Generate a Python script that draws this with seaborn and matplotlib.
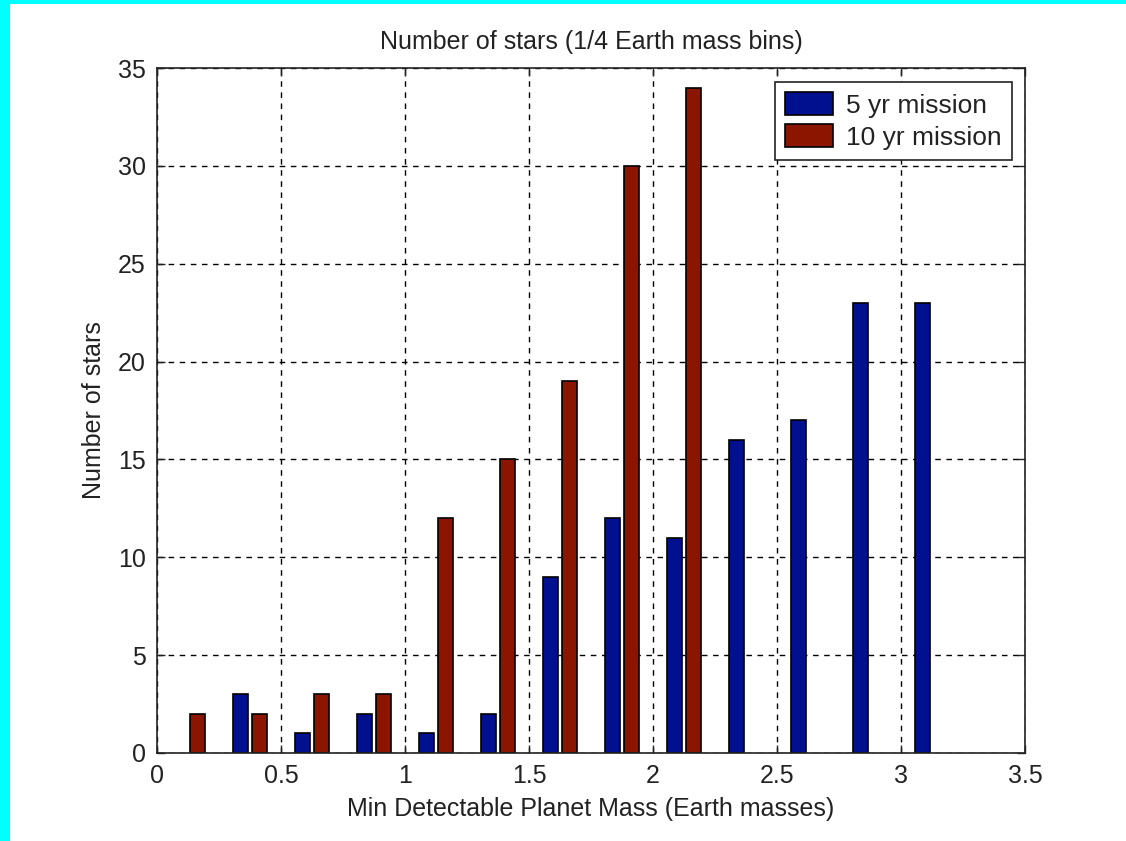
import matplotlib
matplotlib.use("Agg")
import matplotlib.pyplot as plt
from matplotlib.patches import Rectangle
import seaborn as sns
import pandas as pd

# Bin centres of the 1/4 Earth-mass bins
bin_centers = [0.125, 0.375, 0.625, 0.875, 1.125, 1.375, 1.625,
               1.875, 2.125, 2.375, 2.625, 2.875, 3.125]
stars_5yr = [0, 3, 1, 2, 1, 2, 9, 12, 11, 16, 17, 23, 23]
stars_10yr = [2, 2, 3, 3, 12, 15, 19, 30, 34, 0, 0, 0, 0]
series_names = ["5 yr mission", "10 yr mission"]
series_colors = ["#00108F", "#8C1500"]

x_ticks = [0, 0.5, 1, 1.5, 2, 2.5, 3, 3.5]
y_ticks = [0, 5, 10, 15, 20, 25, 30, 35]

rows = []
for x, a, b in zip(bin_centers, stars_5yr, stars_10yr):
    rows.append({"mass": x, "count": a, "mission": series_names[0]})
    rows.append({"mass": x, "count": b, "mission": series_names[1]})
df = pd.DataFrame(rows)
df = df[df["count"] > 0]

sns.set_style("white")
plt.rcParams["font.family"] = ["Liberation Sans", "DejaVu Sans"]
FS = 18
plt.rcParams["font.size"] = FS
ink = "#222222"

fig = plt.figure(figsize=(11.26, 8.41), dpi=100, facecolor="#00FFFF")
fig.add_artist(Rectangle((10 / 1126, 0), 1, (841 - 4) / 841,
                         transform=fig.transFigure, facecolor="white",
                         edgecolor="none", zorder=-1))
ax = fig.add_axes([157 / 1126, 1 - 753 / 841, (1025 - 157) / 1126, (753 - 68) / 841])

sns.barplot(data=df, x="mass", y="count", hue="mission",
            hue_order=series_names, palette=series_colors,
            native_scale=True, dodge=True, width=0.6, gap=0.2,
            edgecolor="black", linewidth=1.2, ax=ax, errorbar=None,
            saturation=1)

ax.set_xlim(0, 3.5)
ax.set_ylim(0, 35)
ax.set_xticks(x_ticks)
ax.set_xticklabels([f"{t:g}" for t in x_ticks])
ax.set_yticks(y_ticks)
ax.grid(True, color="black", linestyle=(0, (4, 4)), linewidth=1)
ax.set_axisbelow(True)
for s in ax.spines.values():
    s.set_visible(True)
    s.set_color(ink)
    s.set_linewidth(1.2)
ax.tick_params(direction="in", length=6, width=1, colors=ink,
               labelcolor=ink, labelsize=FS, top=True, right=True,
               bottom=True, left=True, pad=8)

ax.set_title("Number of stars (1/4 Earth mass bins)", fontsize=FS, pad=14,
             color=ink)
ax.set_xlabel("Min Detectable Planet Mass (Earth masses)", fontsize=FS,
              color=ink)
ax.set_ylabel("Number of stars", fontsize=FS, color=ink)
ax.xaxis.set_label_coords(0.5, -0.064)
ax.yaxis.set_label_coords(-0.059, 0.5)

leg = ax.legend(loc="upper right", fontsize=19, frameon=True, fancybox=False,
                handlelength=1.8, handleheight=0.95, borderpad=0.4,
                labelspacing=0.25, handletextpad=0.5,
                bbox_to_anchor=(0.985, 0.98), borderaxespad=0)
leg.get_frame().set_edgecolor(ink)
leg.get_frame().set_linewidth(1.2)
leg.get_frame().set_alpha(1)
for h in leg.legend_handles:
    h.set_edgecolor("black")
    h.set_linewidth(1.2)
for t in leg.get_texts():
    t.set_color(ink)

fig.savefig("out.png", dpi=100, facecolor=fig.get_facecolor())
